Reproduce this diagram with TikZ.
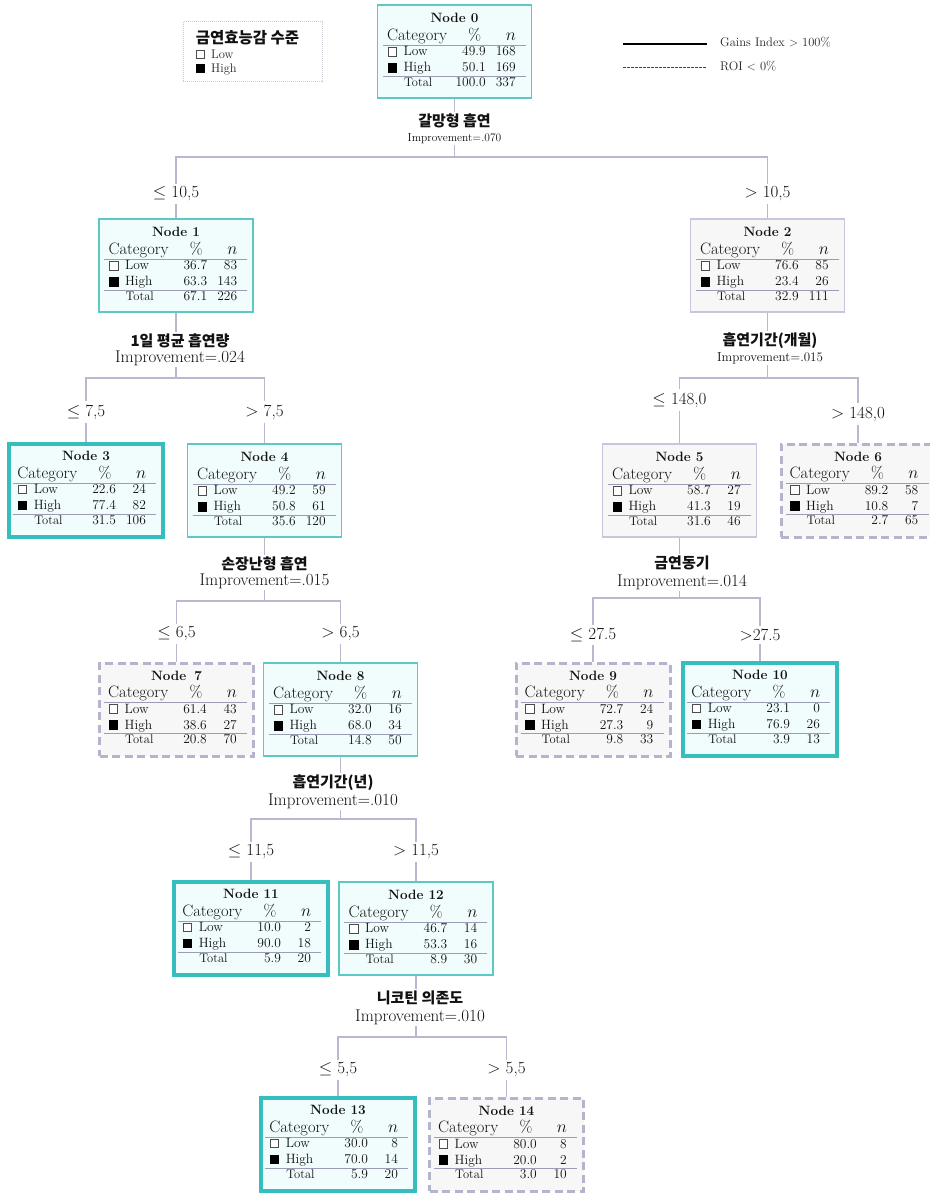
\documentclass[tikz,border=0pt]{standalone}
\usepackage{fontspec}
\newfontfamily\kr{Noto Sans CJK KR}
\definecolor{txt}{HTML}{111111}
\definecolor{connc}{HTML}{B8B8D0}
\definecolor{tealc}{HTML}{5CC8C8}
\definecolor{tealdk}{HTML}{36BDBD}
\definecolor{tealf}{HTML}{F1FCFC}
\definecolor{grayc}{HTML}{C6C6DE}
\definecolor{graydc}{HTML}{B4B4CC}
\definecolor{grayf}{HTML}{F7F7F8}
\definecolor{rulec}{HTML}{9C9CB4}
\definecolor{legc}{HTML}{CCCCD4}
\tikzset{
 conn/.style={draw=connc, line width=1.4pt},
 boxbase/.style={rectangle, minimum width=154pt, minimum height=93pt, inner sep=0pt},
 tealbox/.style={boxbase, draw=tealc, fill=tealf, line width=1.3pt},
 tealthick/.style={boxbase, draw=tealdk, fill=tealf, line width=3.8pt},
 graybox/.style={boxbase, draw=grayc, fill=grayf, line width=1.3pt},
 graydash/.style={boxbase, draw=graydc, fill=grayf, line width=3pt, dash pattern=on 8pt off 4.5pt},
 ttl/.style={anchor=base, inner sep=0pt, font=\fontsize{13.5}{15}\selectfont\bfseries, text=txt},
 hdr/.style={inner sep=0pt, font=\fontsize{16.5}{18}\selectfont, text=txt},
 cell/.style={inner sep=0pt, font=\fontsize{13.5}{15}\selectfont, text=txt},
 tot/.style={inner sep=0pt, font=\fontsize{12.5}{14}\selectfont, text=txt},
 rulel/.style={draw=rulec, line width=0.9pt},
 lowsq/.style={draw=black!70, fill=white, line width=0.6pt},
 highsq/.style={draw=black, fill=black, line width=0.6pt},
 splitk/.style={inner sep=1.5pt, font=\kr\bfseries\fontsize{15}{17}\selectfont, text=txt},
 impr/.style={inner sep=1.5pt, font=\fontsize{17}{19}\selectfont, text=txt},
 thr/.style={inner sep=3pt, font=\fontsize{17}{19}\selectfont, text=txt},
 legtxt/.style={inner sep=0pt, font=\fontsize{12.5}{14}\selectfont, text=black!85},
}
\newcommand{\tnode}[8]{%
 \node[#2] (#1) at (#3) {};
 \node[ttl] at ([yshift=-18.5pt]#1.north) {#4};
 \node[hdr,anchor=base west] at ([xshift=10pt,yshift=-36pt]#1.north west) {Category};
 \node[hdr,anchor=base] at ([xshift=98pt,yshift=-36pt]#1.north west) {\%};
 \node[hdr,anchor=base] at ([xshift=134pt,yshift=-36pt]#1.north west) {$n$};
 \draw[rulel] ([xshift=6pt,yshift=-41pt]#1.north west) -- ([xshift=149pt,yshift=-41pt]#1.north west);
 \draw[lowsq] ([xshift=11pt,yshift=-51.5pt]#1.north west) rectangle ++(8.5,-8.5);
 \node[cell,anchor=base west] at ([xshift=26.5pt,yshift=-51.5pt]#1.north west) {Low};
 \node[cell,anchor=base east] at ([xshift=109pt,yshift=-51.5pt]#1.north west) {#5};
 \node[cell,anchor=base east] at ([xshift=139pt,yshift=-51.5pt]#1.north west) {#6};
 \draw[highsq] ([xshift=11pt,yshift=-67.5pt]#1.north west) rectangle ++(8.5,-8.5);
 \node[cell,anchor=base west] at ([xshift=26.5pt,yshift=-67.5pt]#1.north west) {High};
 \node[cell,anchor=base east] at ([xshift=109pt,yshift=-67.5pt]#1.north west) {#7};
 \node[cell,anchor=base east] at ([xshift=139pt,yshift=-67.5pt]#1.north west) {#8};
 \draw[rulel] ([xshift=6pt,yshift=-72pt]#1.north west) -- ([xshift=149pt,yshift=-72pt]#1.north west);
}
\newcommand{\ttot}[3]{%
 \node[tot,anchor=base west] at ([xshift=27pt,yshift=-82pt]#1.north west) {Total};
 \node[cell,anchor=base east] at ([xshift=109pt,yshift=-82pt]#1.north west) {#2};
 \node[cell,anchor=base east] at ([xshift=139pt,yshift=-82pt]#1.north west) {#3};
}
\begin{document}
\begin{tikzpicture}[x=1pt,y=-1pt]
\useasboundingbox[fill=white] (0,0) rectangle (929,1194);

% legends
\node[draw=legc, line width=0.8pt, dash pattern=on 1pt off 1pt, fill=white, minimum width=139pt, minimum height=60pt, inner sep=0pt] (leg) at (252.5,51.5) {};
\node[splitk, inner sep=0pt, font=\kr\bfseries\fontsize{15.5}{17}\selectfont] (legt) at (247.5,38) {금연효능감 수준};
\draw[lowsq] (196,58) rectangle (204,50);
\node[legtxt, anchor=base west] (legl) at (211,58) {Low};
\draw[highsq] (196,72.5) rectangle (204,64.5);
\node[legtxt, anchor=base west] (legh) at (211,72.5) {High};

\coordinate (la1) at (623,44);
\coordinate (la2) at (707,44);
\draw[black, line width=2.3pt] (la1) -- (la2);
\node[legtxt, anchor=west] (lga) at (720,42.5) {Gains Index $>$ 100\%};
\coordinate (lb1) at (623,67);
\coordinate (lb2) at (707,67);
\draw[black!75, line width=0.9pt, dash pattern=on 2.5pt off 1.5pt] (lb1) -- (lb2);
\node[legtxt, anchor=west] (lgb) at (720,66.5) {ROI $<$ 0\%};

% nodes
\tnode{n0}{tealbox}{454.5,51.5}{Node 0}{49.9}{168}{50.1}{169}\ttot{n0}{100.0}{337}
\tnode{n1}{tealbox}{176,265.5}{Node 1}{36.7}{83}{63.3}{143}\ttot{n1}{67.1}{226}
\tnode{n2}{graybox}{767.5,265.5}{Node 2}{76.6}{85}{23.4}{26}\ttot{n2}{32.9}{111}
\tnode{n3}{tealthick}{86,490.5}{Node 3}{22.6}{24}{77.4}{82}\ttot{n3}{31.5}{106}
\tnode{n4}{tealbox}{264.5,490.5}{Node 4}{49.2}{59}{50.8}{61}\ttot{n4}{35.6}{120}
\tnode{n5}{graybox}{679.5,490.5}{Node 5}{58.7}{27}{41.3}{19}\ttot{n5}{31.6}{46}
\tnode{n6}{graydash}{858,490.5}{Node 6}{89.2}{58}{10.8}{7}\ttot{n6}{2.7}{65}
\tnode{n7}{graydash}{176.5,709.5}{Node\hspace{0.6em}7}{61.4}{43}{38.6}{27}\ttot{n7}{20.8}{70}
\tnode{n8}{tealbox}{340.5,709.5}{Node 8}{32.0}{16}{68.0}{34}\ttot{n8}{14.8}{50}
\tnode{n9}{graydash}{593,709.5}{Node 9}{72.7}{24}{27.3}{9}\ttot{n9}{9.8}{33}
\tnode{n10}{tealthick}{760,709.5}{Node 10}{23.1}{0}{76.9}{26}\ttot{n10}{3.9}{13}
\tnode{n11}{tealthick}{251,928.5}{Node 11}{10.0}{2}{90.0}{18}\ttot{n11}{5.9}{20}
\tnode{n12}{tealbox}{416,928.5}{Node 12}{46.7}{14}{53.3}{16}\ttot{n12}{8.9}{30}
\tnode{n13}{tealthick}{338,1144.5}{Node 13}{30.0}{8}{70.0}{14}\ttot{n13}{5.9}{20}
\tnode{n14}{graydash}{506.5,1144.5}{Node 14}{80.0}{8}{20.0}{2}\ttot{n14}{3.0}{10}

% split labels
\node[splitk] (k0) at (454.5,121) {갈망형 흡연};
\node[impr, font=\fontsize{11.5}{13}\selectfont] (i0) at (454.5,138.5) {Improvement=.070};
\node[splitk] (k1) at (180,341) {1일 평균 흡연량};
\node[impr] (i1) at (180,358) {Improvement=.024};
\node[splitk] (k2) at (770,341) {흡연기간(개월)};
\node[impr, font=\fontsize{13}{15}\selectfont] (i2) at (770,358) {Improvement=.015};
\node[splitk] (k4) at (264.5,564) {손장난형 흡연};
\node[impr] (i4) at (264.5,581) {Improvement=.015};
\node[splitk] (k5) at (682,563) {금연동기};
\node[impr] (i5) at (682,582) {Improvement=.014};
\node[splitk] (k8) at (333,783) {흡연기간(년)};
\node[impr] (i8) at (333,801) {Improvement=.010};
\node[splitk] (k12) at (420,998) {니코틴 의존도};
\node[impr] (i12) at (420,1017) {Improvement=.010};

% bars
\coordinate (b0) at (454.5,157);
\coordinate (b1) at (176,378);
\coordinate (b2) at (767.5,378);
\coordinate (b4) at (264.5,601);
\coordinate (b5) at (679.5,598);
\coordinate (b8) at (340.5,819);
\coordinate (b12) at (416,1037);

% thresholds
\node[thr] (t1) at (176,194) {$\leq$ 10,5};
\node[thr] (t2) at (767.5,194) {$>$ 10,5};
\node[thr] (t3) at (86,412) {$\leq$ 7,5};
\node[thr] (t4) at (264.5,412) {$>$ 7,5};
\node[thr] (t5) at (679.5,400) {$\leq$ 148,0};
\node[thr] (t6) at (858,414) {$>$ 148,0};
\node[thr] (t7) at (176.5,634) {$\leq$ 6,5};
\node[thr] (t8) at (340.5,634) {$>$ 6,5};
\node[thr] (t9) at (593,635) {$\leq$ 27.5};
\node[thr] (t10) at (760,635) {$>$27.5};
\node[thr] (t11) at (251,852) {$\leq$ 11,5};
\node[thr] (t12) at (416,852) {$>$ 11,5};
\node[thr] (t13) at (338,1070) {$\leq$ 5,5};
\node[thr] (t14) at (506.5,1070) {$>$ 5,5};

% connectors
\draw[conn] (n0.south) -- (n0.south |- k0.north);
\draw[conn] (i0.south -| b0) -- (b0);
\draw[conn] (t1.north) |- (b0) -| (t2.north);
\draw[conn] (t1.south) -- (n1.north);
\draw[conn] (t2.south) -- (n2.north);

\draw[conn] (n1.south) -- (n1.south |- k1.north);
\draw[conn] (i1.south -| b1) -- (b1);
\draw[conn] (t3.north) |- (b1) -| (t4.north);
\draw[conn] (t3.south) -- (n3.north);
\draw[conn] (t4.south) -- (n4.north);

\draw[conn] (n2.south) -- (n2.south |- k2.north);
\draw[conn] (i2.south -| b2) -- (b2);
\draw[conn] (t5.north) |- (b2) -| (t6.north);
\draw[conn] (t5.south) -- (n5.north);
\draw[conn] (t6.south) -- (n6.north);

\draw[conn] (n4.south) -- (n4.south |- k4.north);
\draw[conn] (i4.south -| b4) -- (b4);
\draw[conn] (t7.north) |- (b4) -| (t8.north);
\draw[conn] (t7.south) -- (n7.north);
\draw[conn] (t8.south) -- (n8.north);

\draw[conn] (n5.south) -- (n5.south |- k5.north);
\draw[conn] (i5.south -| b5) -- (b5);
\draw[conn] (t9.north) |- (b5) -| (t10.north);
\draw[conn] (t9.south) -- (n9.north);
\draw[conn] (t10.south) -- (n10.north);

\draw[conn] (n8.south) -- (n8.south |- k8.north);
\draw[conn] (i8.south -| b8) -- (b8);
\draw[conn] (t11.north) |- (b8) -| (t12.north);
\draw[conn] (t11.south) -- (n11.north);
\draw[conn] (t12.south) -- (n12.north);

\draw[conn] (n12.south) -- (n12.south |- k12.north);
\draw[conn] (i12.south -| b12) -- (b12);
\draw[conn] (t13.north) |- (b12) -| (t14.north);
\draw[conn] (t13.south) -- (n13.north);
\draw[conn] (t14.south) -- (n14.north);
\end{tikzpicture}
\end{document}
